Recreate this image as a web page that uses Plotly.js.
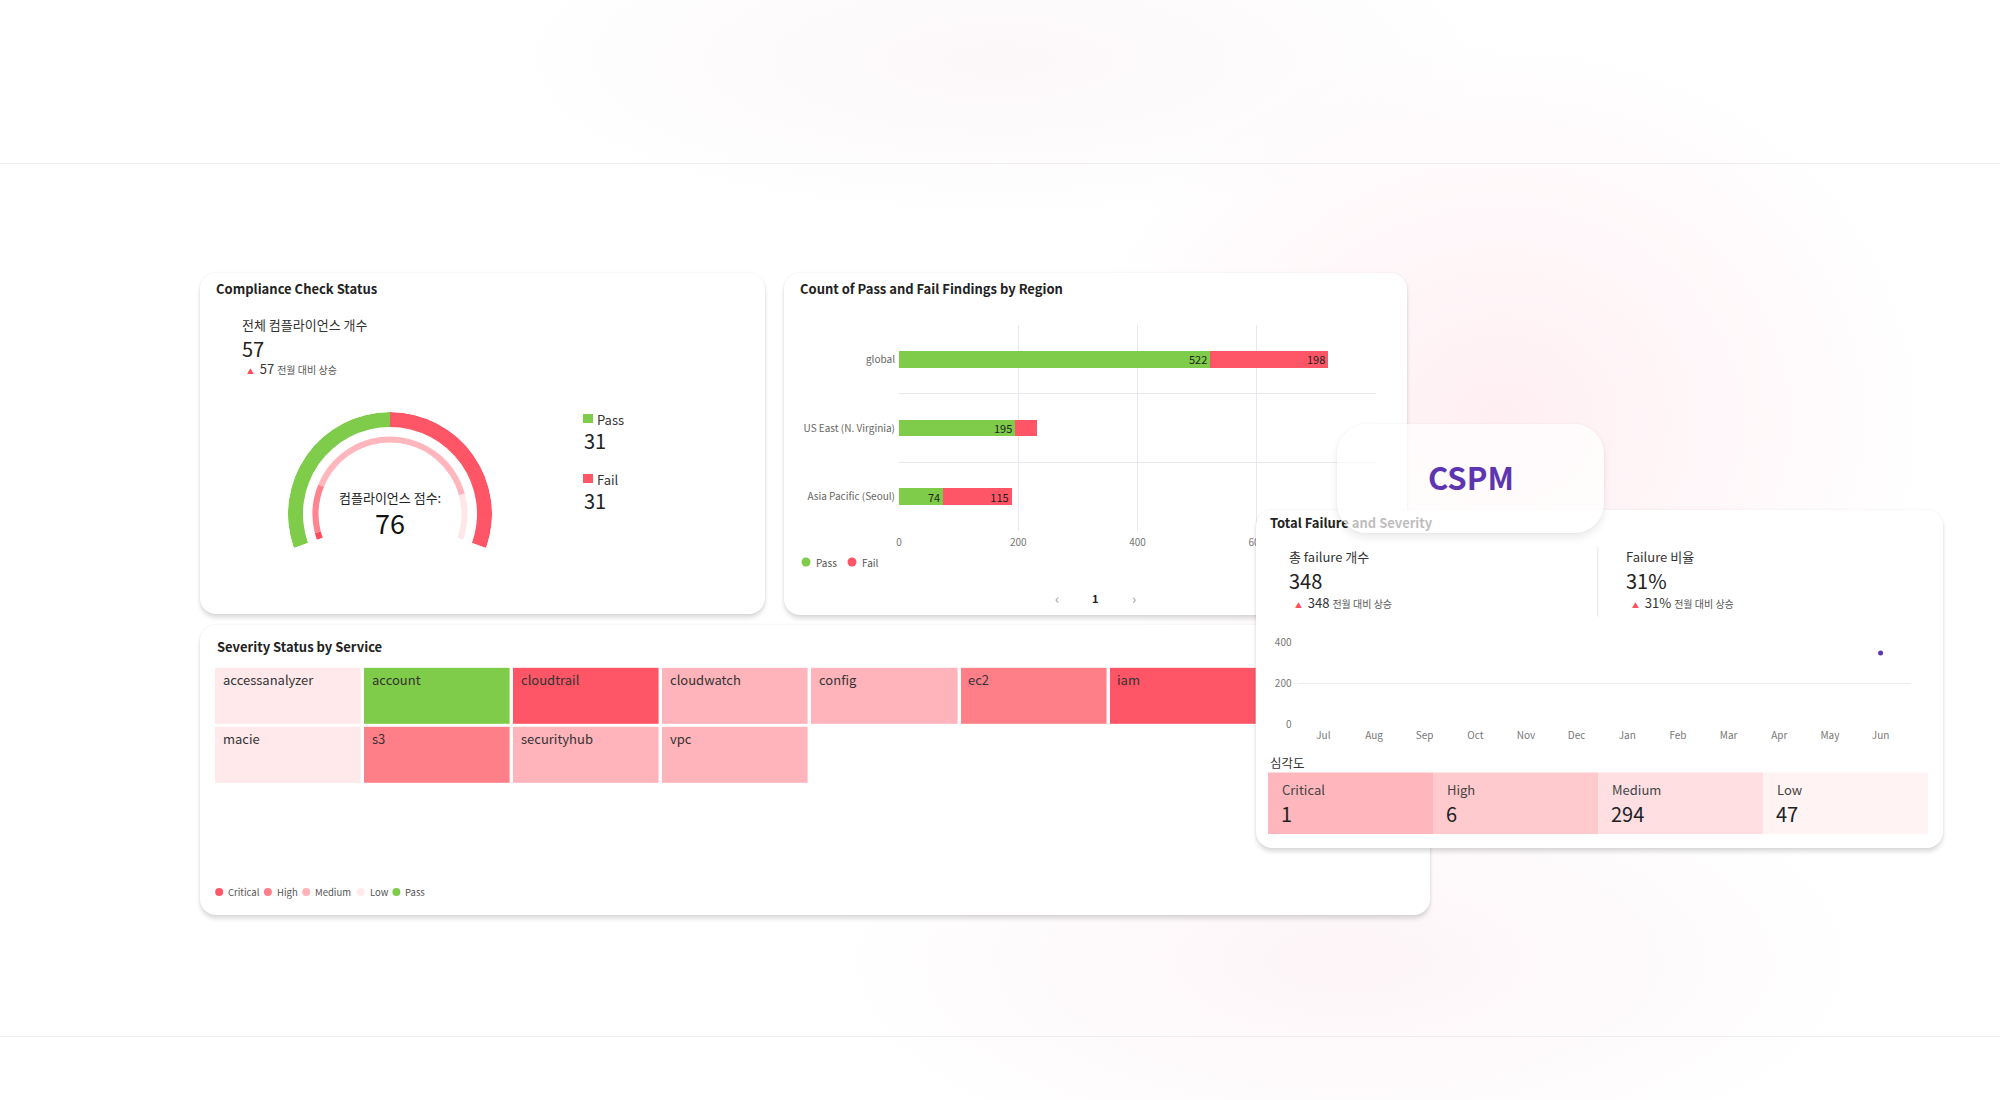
<!DOCTYPE html>
<html>
<head>
<meta charset="utf-8">
<script src="https://cdn.plot.ly/plotly-3.0.1.min.js"></script>
<style>
  html, body { margin: 0; padding: 0; }
  #page {
    position: relative; width: 2000px; height: 1100px; overflow: hidden;
    background:
      radial-gradient(ellipse 430px 380px at 1500px 420px, rgba(255,226,233,0.55), rgba(255,255,255,0) 100%),
      radial-gradient(ellipse 520px 220px at 1350px 960px, rgba(250,232,238,0.45), rgba(255,255,255,0) 100%),
      radial-gradient(ellipse 500px 160px at 1000px 60px, rgba(248,238,242,0.45), rgba(255,255,255,0) 100%),
      #ffffff;
  }
  .hline { position: absolute; left: 0; width: 2000px; height: 1px; background: #eeeeef; }
  .card {
    position: absolute; background: #ffffff; border-radius: 16px; overflow: hidden;
    box-shadow: 0 4px 4px rgba(0,0,0,0.13), 0 0 3px rgba(0,0,0,0.07);
  }
  .pill {
    position: absolute; background: rgba(255,255,255,0.70); border-radius: 30px; overflow: hidden;
    box-shadow: 0 5px 8px rgba(0,0,0,0.08), 0 0 3px rgba(0,0,0,0.05);
  }
</style>
</head>
<body>
<div id="page">
  <div class="hline" style="top:163px"></div>
  <div class="hline" style="top:1036px"></div>
  <div id="card1" class="card" style="left:200px;top:273px;width:565px;height:341px"></div>
  <div id="card2" class="card" style="left:784px;top:273px;width:623px;height:342px"></div>
  <div id="card3" class="card" style="left:200px;top:625px;width:1230px;height:290px"></div>
  <div id="card4" class="card" style="left:1256px;top:510px;width:687px;height:338px"></div>
  <div id="pill" class="pill" style="left:1337px;top:424px;width:267px;height:109px"></div>
</div>
<script>
// ---------------- DATA ----------------
const totalCompliance = 57;
const totalComplianceDelta = 57;
const passCount = 31;
const failCount = 31;
const complianceScore = 76;

const regions = ['global', 'US East (N. Virginia)', 'Asia Pacific (Seoul)'];
const passByRegion = [522, 195, 74];
const failByRegion = [198, 36, 115];
const regionTicks = [0, 200, 400, 600, 800];

const services = ['accessanalyzer', 'account', 'cloudtrail', 'cloudwatch', 'config', 'ec2', 'iam',
                  'macie', 's3', 'securityhub', 'vpc'];
const serviceSeverity = ['Low', 'Pass', 'Critical', 'Medium', 'Medium', 'High', 'Critical',
                         'Low', 'High', 'Medium', 'Medium'];
const severityLegend = ['Critical', 'High', 'Medium', 'Low', 'Pass'];

const totalFailures = 348;
const totalFailuresDelta = 348;
const failureRate = 31;
const failureRateDelta = 31;

const months = ['Jul', 'Aug', 'Sep', 'Oct', 'Nov', 'Dec', 'Jan', 'Feb', 'Mar', 'Apr', 'May', 'Jun'];
const monthlyFailures = [null, null, null, null, null, null, null, null, null, null, null, 348];
const trendTicks = [0, 200, 400];

const severityLevels = ['Critical', 'High', 'Medium', 'Low'];
const severityCounts = [1, 6, 294, 47];

// ---------------- STYLE ----------------
const FONT = "'Noto Sans CJK KR', 'Noto Sans', sans-serif";
const GREEN = '#7ECC49';
const RED = '#FF5667';
const SEV_COLORS = { Critical: '#FF5667', High: '#FF7F89', Medium: '#FFB3BA', Low: '#FFE9EB', Pass: '#7ECC49' };
const SEV4_COLORS = ['#FFB7BD', '#FFCACE', '#FFDFE2', '#FFF3F4'];
const PURPLE = '#5E35B1';
const config = { staticPlot: true, displayModeBar: false };

function ann(W, H, x, y, text, size, color, opt) {
  opt = opt || {};
  return {
    xref: 'paper', yref: 'paper', x: x / W, y: 1 - y / H, text: text, showarrow: false,
    xanchor: opt.xanchor || 'left', yanchor: 'middle',
    font: { family: FONT, size: size, color: color, weight: opt.weight || 400 }
  };
}
function deltaText(v) {
  return '<span style="color:#FF4D5E;font-size:7px">▲</span>  ' + v +
         ' <span style="font-size:10px;color:#555">전월 대비 상승</span>';
}
function rectShape(W, H, x0, y0, x1, y1, color, type) {
  return { type: type || 'rect', xref: 'paper', yref: 'paper', x0: x0 / W, x1: x1 / W,
           y0: 1 - y1 / H, y1: 1 - y0 / H, fillcolor: color, line: { width: 0 } };
}
function baseLayout(W, H) {
  return { width: W, height: H, margin: { l: 0, r: 0, t: 0, b: 0, pad: 0 },
           paper_bgcolor: 'rgba(0,0,0,0)', plot_bgcolor: 'rgba(0,0,0,0)',
           showlegend: false, font: { family: FONT } };
}

// ---------------- CARD 1 : Compliance Check Status ----------------
(function () {
  const W = 565, H = 341;
  const gaugeStart = 199.5, gaugeSpan = 219;   // degrees (layout of the arc)
  const total = passCount + failCount;
  const passW = gaugeSpan * passCount / total;
  const failW = gaugeSpan * failCount / total;
  const traces = [
    { type: 'barpolar', theta: [gaugeStart - passW / 2], width: [passW], r: [0.147], base: [0.853],
      marker: { color: GREEN, line: { width: 0 } }, hoverinfo: 'skip' },
    { type: 'barpolar', theta: [gaugeStart - passW - failW / 2], width: [failW], r: [0.147], base: [0.853],
      marker: { color: RED, line: { width: 0 } }, hoverinfo: 'skip' }
  ];
  // inner score track (style bands, percent of scale)
  const innerSteps = [[0, 2.4, '#FF4D5E'], [2.4, 19.2, '#FF848F'], [19.2, 84.2, '#FFB7BD'], [84.2, 100, '#FFE6E9']];
  innerSteps.forEach(function (s) {
    traces.push({ type: 'barpolar', theta: [gaugeStart - gaugeSpan * (s[0] + s[1]) / 200],
      width: [gaugeSpan * (s[1] - s[0]) / 100], r: [0.06], base: [0.70],
      marker: { color: s[2], line: { width: 0 } }, hoverinfo: 'skip' });
  });
  const cx = 190, cy = 241, R = 102;
  const layout = baseLayout(W, H);
  layout.polar = {
    domain: { x: [(cx - R) / W, (cx + R) / W], y: [1 - (cy + 0.334 * R) / H, 1 - (cy - R) / H] },
    sector: [-19.5, 199.5], hole: 0, bgcolor: 'rgba(0,0,0,0)', barmode: 'overlay',
    radialaxis: { visible: false, range: [0, 1], showgrid: false, showline: false },
    angularaxis: { visible: false, rotation: 0, direction: 'counterclockwise', showgrid: false, showline: false, ticks: '' }
  };
  layout.annotations = [
    ann(W, H, 14, 16, 'Compliance Check Status', 13, '#222', { weight: 700 }),
    ann(W, H, 40, 52, '전체 컴플라이언스 개수', 13, '#333'),
    ann(W, H, 40, 75, String(totalCompliance), 20, '#222'),
    ann(W, H, 45, 96, deltaText(totalComplianceDelta), 13, '#333'),
    ann(W, H, cx, 224.5, '컴플라이언스 점수:', 13, '#222', { xanchor: 'center' }),
    ann(W, H, cx, 249.5, String(complianceScore), 27, '#111', { xanchor: 'center' }),
    ann(W, H, 395, 146, 'Pass', 13, '#333'),
    ann(W, H, 382, 167, String(passCount), 20, '#222'),
    ann(W, H, 395, 206, 'Fail', 13, '#333'),
    ann(W, H, 382, 227, String(failCount), 20, '#222')
  ];
  layout.shapes = [
    rectShape(W, H, 383, 141, 393, 150, GREEN),
    rectShape(W, H, 383, 201, 393, 210, RED)
  ];
  Plotly.newPlot('card1', traces, layout, config);
})();

// ---------------- CARD 2 : Count of Pass and Fail Findings by Region ----------------
(function () {
  const W = 623, H = 342;
  const traces = [
    { type: 'bar', orientation: 'h', name: 'Pass', y: regions, x: passByRegion,
      text: passByRegion.map(String), textposition: 'inside', insidetextanchor: 'end', constraintext: 'none',
      textangle: 0, textfont: { size: 11, color: '#222', family: FONT }, marker: { color: GREEN, line: { width: 0 } },
      hoverinfo: 'skip' },
    { type: 'bar', orientation: 'h', name: 'Fail', y: regions, x: failByRegion,
      text: failByRegion.map(function (v) { return v >= 50 ? String(v) : ''; }),
      textposition: 'inside', insidetextanchor: 'end', constraintext: 'none', textangle: 0,
      textfont: { size: 11, color: '#222', family: FONT }, marker: { color: RED, line: { width: 0 } },
      hoverinfo: 'skip' }
  ];
  const layout = baseLayout(W, H);
  layout.barmode = 'stack';
  layout.bargap = 0.757;
  layout.xaxis = {
    domain: [115 / W, 592 / W], range: [0, 800], tickvals: regionTicks, ticktext: regionTicks.map(String),
    showgrid: true, gridcolor: '#E8E8EE', gridwidth: 1, zeroline: false, showline: false, ticks: '',
    tickfont: { size: 10, color: '#777', family: FONT }, ticklabelstandoff: 4, fixedrange: true
  };
  layout.yaxis = {
    domain: [1 - 258 / H, 1 - 52 / H], type: 'category', autorange: 'reversed', tickson: 'boundaries',
    showgrid: true, gridcolor: '#E8E8EE', gridwidth: 1, zeroline: false, showline: false, ticks: '',
    tickfont: { size: 10, color: '#666', family: FONT }, ticklabelstandoff: 3, fixedrange: true
  };
  layout.annotations = [
    ann(W, H, 14, 15, 'Count of Pass and Fail Findings by Region', 13, '#222', { weight: 700 }),
    ann(W, H, 30, 289, 'Pass', 10, '#555'),
    ann(W, H, 76, 289, 'Fail', 10, '#555'),
    ann(W, H, 273, 325, '‹', 14, '#999', { xanchor: 'center' }),
    ann(W, H, 311, 325, '1', 11, '#222', { xanchor: 'center', weight: 700 }),
    ann(W, H, 350, 325, '›', 14, '#999', { xanchor: 'center' })
  ];
  layout.shapes = [
    rectShape(W, H, 17.5, 284.5, 26.5, 293.5, GREEN, 'circle'),
    rectShape(W, H, 63.5, 284.5, 72.5, 293.5, RED, 'circle')
  ];
  Plotly.newPlot('card2', traces, layout, config);
})();

// ---------------- CARD 3 : Severity Status by Service ----------------
(function () {
  const W = 1230, H = 290;
  const COLS = 7;
  const levelIndex = { Critical: 0, High: 1, Medium: 2, Low: 3, Pass: 4 };
  const nRows = Math.ceil(services.length / COLS);
  const z = [];
  for (let r = 0; r < nRows; r++) { z.push(new Array(COLS).fill(null)); }
  services.forEach(function (s, i) { z[Math.floor(i / COLS)][i % COLS] = levelIndex[serviceSeverity[i]]; });
  const colorscale = severityLegend.map(function (lv, i) { return [i / (severityLegend.length - 1), SEV_COLORS[lv]]; });
  const traces = [{
    type: 'heatmap', z: z, x: [...Array(COLS).keys()], y: [...Array(nRows).keys()],
    zmin: 0, zmax: 4, colorscale: colorscale, showscale: false, xgap: 3.4, ygap: 3, hoverinfo: 'skip'
  }];
  const layout = baseLayout(W, H);
  layout.xaxis = { domain: [14 / W, 1057.7 / W], range: [-0.5, COLS - 0.5], visible: false, fixedrange: true };
  layout.yaxis = { domain: [1 - 159.8 / H, 1 - 41.8 / H], range: [nRows - 0.5, -0.5], visible: false, fixedrange: true };
  const anns = [ann(W, H, 15, 21, 'Severity Status by Service', 13, '#222', { weight: 700 })];
  services.forEach(function (s, i) {
    anns.push({ xref: 'x', yref: 'y', x: (i % COLS) - 0.5, y: Math.floor(i / COLS) - 0.5, text: s,
      showarrow: false, xanchor: 'left', yanchor: 'middle', xshift: 6.5, yshift: -13,
      font: { family: FONT, size: 13, color: '#333' } });
  });
  // legend row
  const legendText = [26, 74.5, 112.8, 167.8, 203.2];
  const legendDot = [19.2, 67.9, 106.2, 160.7, 196.4];
  const shapes = [];
  severityLegend.forEach(function (lv, i) {
    anns.push(ann(W, H, legendText[i], 267, lv, 9.5, '#555'));
    shapes.push(rectShape(W, H, legendDot[i] - 4, 263, legendDot[i] + 4, 271, SEV_COLORS[lv], 'circle'));
  });
  layout.annotations = anns;
  layout.shapes = shapes;
  Plotly.newPlot('card3', traces, layout, config);
})();

// ---------------- CARD 4 : Total Failure and Severity ----------------
(function () {
  const W = 687, H = 338;
  const traces = [
    { type: 'scatter', mode: 'lines+markers', x: months, y: monthlyFailures, xaxis: 'x', yaxis: 'y',
      line: { color: PURPLE, width: 2 }, marker: { color: PURPLE, size: 5 }, hoverinfo: 'skip', cliponaxis: false },
    { type: 'heatmap', z: [severityLevels.map(function (l, i) { return i; })],
      x: severityLevels.map(function (l, i) { return i; }), y: [0], xaxis: 'x2', yaxis: 'y2',
      zmin: 0, zmax: severityLevels.length - 1,
      colorscale: SEV4_COLORS.map(function (c, i) { return [i / (SEV4_COLORS.length - 1), c]; }),
      showscale: false, hoverinfo: 'skip' }
  ];
  const layout = baseLayout(W, H);
  layout.xaxis = {
    domain: [41.5 / W, 655 / W], type: 'category', range: [-0.51, 11.6], showgrid: false, zeroline: false,
    showline: false, ticks: '', tickfont: { size: 10, color: '#777', family: FONT }, ticklabelstandoff: 4, fixedrange: true
  };
  layout.yaxis = {
    domain: [1 - 214.3 / H, 1 - 132.3 / H], range: [0, 400], tickvals: trendTicks, ticktext: trendTicks.map(String),
    showgrid: true, gridcolor: '#ECECEF', zeroline: false, showline: false, ticks: '',
    tickfont: { size: 10, color: '#777', family: FONT }, ticklabelstandoff: 5, fixedrange: true
  };
  layout.xaxis2 = { domain: [12 / W, 671.8 / W], range: [-0.5, severityLevels.length - 0.5], visible: false, fixedrange: true, anchor: 'y2' };
  layout.yaxis2 = { domain: [1 - 324.3 / H, 1 - 262.3 / H], range: [-0.5, 0.5], visible: false, fixedrange: true, anchor: 'x2' };
  const anns = [
    ann(W, H, 12, 12.5, 'Total Failure and Severity', 13, '#222', { weight: 700 }),
    ann(W, H, 31, 47, '총 failure 개수', 13, '#333'),
    ann(W, H, 31, 71, String(totalFailures), 20, '#222'),
    ann(W, H, 37, 92, deltaText(totalFailuresDelta), 13, '#333'),
    ann(W, H, 367.5, 47, 'Failure 비율', 13, '#333'),
    ann(W, H, 367.5, 71, failureRate + '%', 20, '#222'),
    ann(W, H, 373.5, 92, deltaText(failureRateDelta + '%'), 13, '#333'),
    ann(W, H, 12, 252, '심각도', 12.5, '#333')
  ];
  severityLevels.forEach(function (lv, i) {
    anns.push({ xref: 'x2', yref: 'y2', x: i - 0.5, y: 0.5, text: lv, showarrow: false, xanchor: 'left',
      yanchor: 'middle', xshift: 12, yshift: -17.5, font: { family: FONT, size: 13, color: '#444' } });
    anns.push({ xref: 'x2', yref: 'y2', x: i - 0.5, y: 0.5, text: String(severityCounts[i]), showarrow: false,
      xanchor: 'left', yanchor: 'middle', xshift: 11, yshift: -41.5, font: { family: FONT, size: 20, color: '#222' } });
  });
  layout.annotations = anns;
  layout.shapes = [
    { type: 'line', xref: 'paper', yref: 'paper', x0: 341.8 / W, x1: 341.8 / W, y0: 1 - 106.7 / H, y1: 1 - 36.7 / H,
      line: { color: '#E6E6E9', width: 1 } }
  ];
  Plotly.newPlot('card4', traces, layout, config);
})();

// ---------------- CSPM pill ----------------
(function () {
  const W = 267, H = 109;
  const layout = baseLayout(W, H);
  layout.xaxis = { visible: false }; layout.yaxis = { visible: false };
  layout.annotations = [ann(W, H, 134, 52, 'CSPM', 31, PURPLE, { xanchor: 'center', weight: 600 })];
  Plotly.newPlot('pill', [], layout, config);
})();
</script>
</body>
</html>
